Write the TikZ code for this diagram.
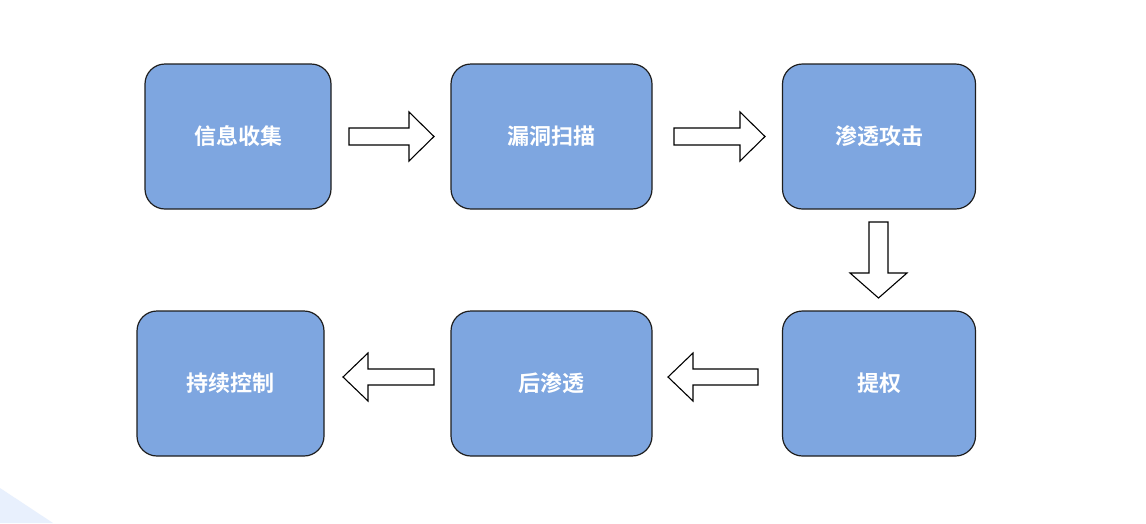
\documentclass[tikz,border=0pt]{standalone}
\usepackage{fontspec}
\newfontfamily\cjk{Noto Sans CJK SC}[BoldFont={Noto Sans CJK SC Bold}]
\definecolor{boxfill}{HTML}{7EA6E0}
\definecolor{boxline}{HTML}{1E1E1E}
\definecolor{deco}{HTML}{E8F0FD}
\begin{document}
\begin{tikzpicture}[x=1pt,y=-1pt,
  stepbox/.style={draw=boxline,line width=1.2pt,fill=boxfill,rounded corners=20pt,
    text=white,font=\cjk\bfseries\fontsize{22}{24}\selectfont,inner sep=0pt},
  blockarrow/.style={draw=black,line width=1.1pt,fill=white,line join=miter}]
\useasboundingbox (0,0) rectangle (1146,523);
\fill[white] (0,0) rectangle (1146,523);
\fill[deco] (0,488) -- (53,523) -- (0,523) -- cycle;
% boxes
\node[stepbox,minimum width=186pt,minimum height=145pt] (b1) at (238,136.5) {信息收集};
\node[stepbox,minimum width=201pt,minimum height=145pt] (b2) at (551.5,136.5) {漏洞扫描};
\node[stepbox,minimum width=193pt,minimum height=145pt] (b3) at (879,136.5) {渗透攻击};
\node[stepbox,minimum width=193pt,minimum height=145pt] (b4) at (879,383.5) {提权};
\node[stepbox,minimum width=201pt,minimum height=145pt] (b5) at (551.5,383.5) {后渗透};
\node[stepbox,minimum width=187pt,minimum height=145pt] (b6) at (230.5,383.5) {持续控制};
% arrows
\draw[blockarrow] (349,128) -- (409,128) -- (409,112) -- (434,136.5) -- (409,161) -- (409,145) -- (349,145) -- cycle;
\draw[blockarrow] (674,128) -- (740,128) -- (740,112) -- (765,136.5) -- (740,161) -- (740,145) -- (674,145) -- cycle;
\draw[blockarrow] (869,222) -- (888,222) -- (888,273) -- (907,273) -- (878.5,298) -- (850,273) -- (869,273) -- cycle;
\draw[blockarrow] (758,369) -- (693,369) -- (693,353) -- (668,377) -- (693,401) -- (693,385) -- (758,385) -- cycle;
\draw[blockarrow] (434,369) -- (368,369) -- (368,353) -- (343,377) -- (368,401) -- (368,385) -- (434,385) -- cycle;
\end{tikzpicture}
\end{document}
